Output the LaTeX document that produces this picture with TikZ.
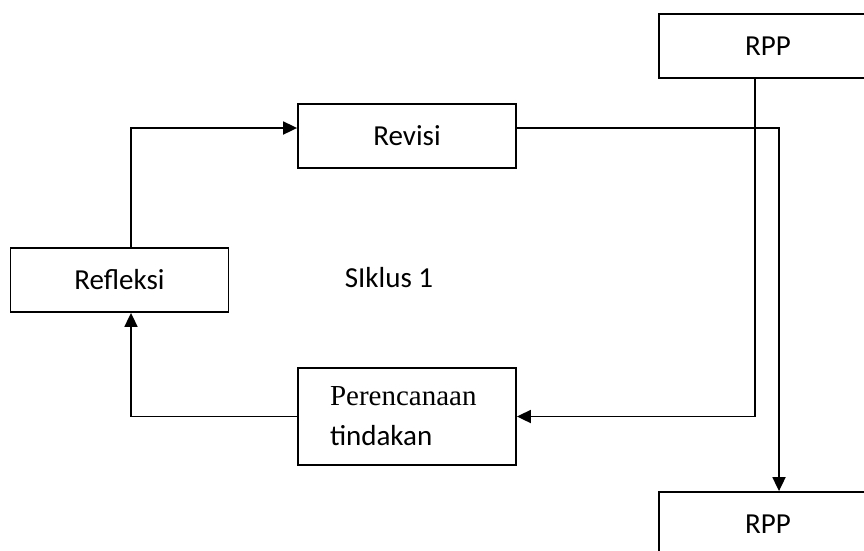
\documentclass[tikz,border=0pt]{standalone}
\usepackage{fontspec}
\setmainfont{Carlito}
\newfontfamily\timesfont{Liberation Serif}
\usetikzlibrary{arrows.meta}

\begin{document}
\begin{tikzpicture}[x=1pt,y=-1pt,
	>={Triangle[length=14pt,width=13pt]},
	box/.style={draw,line width=1.8pt,minimum width=218pt,minimum height=64pt,inner sep=0pt},
	every node/.style={font=\fontsize{29}{40}\selectfont}]
	\useasboundingbox (0,0) rectangle (864,550);
	\clip (0,0) rectangle (864,550);

	% Nodes
	\node[box] (rppA) at (768,46) {RPP};
	\node[box] (revisi) at (407,136) {Revisi};
	\node[box] (refleksi) at (119.5,280) {Refleksi};
	\node[box,minimum height=97pt,inner xsep=32pt,text width=154pt,align=left] (rencana) at (407,416.5) {{\timesfont Perencanaan}\\tindakan};
	\node[box] (rppB) at (768,524) {RPP};
	\node[anchor=base] (siklus) at (389,287) {SIklus 1};

	% Arrows
	\draw[->,line width=1.8pt] ([xshift=11.5pt]refleksi.north) |- ([yshift=8pt]revisi.west);
	\draw[->,line width=1.8pt] ([yshift=8pt]revisi.east) -| ([xshift=11pt]rppB.north);
	\draw[->,line width=1.8pt] ([xshift=-13pt]rppA.south) |- (rencana.east);
	\draw[->,line width=1.8pt] (rencana.west) -| ([xshift=11.5pt]refleksi.south);
\end{tikzpicture}
\end{document}
